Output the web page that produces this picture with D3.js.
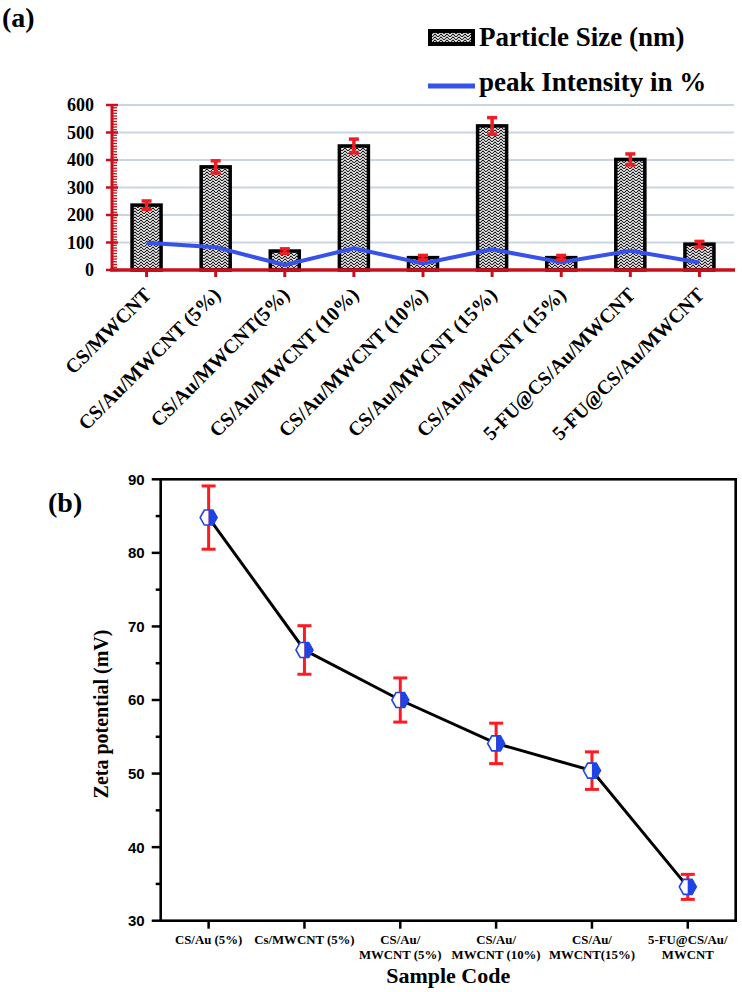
<!DOCTYPE html>
<html><head><meta charset="utf-8">
<script src="https://cdn.jsdelivr.net/npm/d3@7"></script>
<style>body{margin:0;background:#fff}</style>
</head><body><svg id="c" width="742" height="992"></svg>
<script>
// ---------- Panel (a) data ----------
const samplesA = ["CS/MWCNT","CS/Au/MWCNT (5%)","CS/Au/MWCNT(5%)","CS/Au/MWCNT (10%)","CS/Au/MWCNT (10%)","CS/Au/MWCNT (15%)","CS/Au/MWCNT (15%)","5-FU@CS/Au/MWCNT","5-FU@CS/Au/MWCNT"];
const particleSize = [236, 375, 69, 451, 45, 524, 45, 402, 94];
const particleErr  = [15, 22, 8, 25, 8, 30, 8, 20, 10];
const peakIntensity = [99, 83, 18, 79, 24, 75, 28, 70, 27];
const yTicksA = [0, 100, 200, 300, 400, 500, 600];
const legendA = ["Particle Size (nm)", "peak Intensity in %"];

// ---------- Panel (b) data ----------
const samplesB = [["CS/Au (5%)"], ["Cs/MWCNT (5%)"], ["CS/Au/", "MWCNT (5%)"], ["CS/Au/", "MWCNT (10%)"], ["CS/Au/", "MWCNT(15%)"], ["5-FU@CS/Au/", "MWCNT"]];
const zeta    = [84.8, 66.8, 60.0, 54.1, 50.4, 34.6];
const zetaErr = [4.3, 3.3, 3.0, 2.75, 2.55, 1.7];
const yTicksB = [30, 40, 50, 60, 70, 80, 90];

const svg = d3.select("#c");
const serif = "'Liberation Serif','Times New Roman',serif";
const sans = "'Liberation Sans',Arial,sans-serif";
const RED_AX = "#c8101c", RED_ERR = "#f01c24", BLUE = "#3652ea";

// pattern
const defs = svg.append("defs");
const pat = defs.append("pattern").attr("id","zz").attr("patternUnits","userSpaceOnUse")
  .attr("width",6).attr("height",6);
pat.append("rect").attr("width",6).attr("height",6).attr("fill","#fff");
pat.append("path").attr("d","M0,4 L3,1 L6,4 M0,7 L3,4 L6,7 M0,1 L3,-2 L6,1")
  .attr("stroke","#111").attr("stroke-width",1.05).attr("fill","none");

// ================= Panel (a) =================
const idxA = d3.range(samplesA.length);
const xA = d3.scaleBand().domain(idxA).range([112, 734]).paddingInner(0.58).paddingOuter(0.29);
const yA = d3.scaleLinear().domain([0, 600]).range([270, 105]);

svg.append("text").attr("x",2).attr("y",27).attr("font-family",serif).attr("font-weight","bold")
  .attr("font-size",28).text("(a)");

// legend
svg.append("rect").attr("x",430).attr("y",31).attr("width",43).attr("height",13)
  .attr("fill","url(#zz)").attr("stroke","#000").attr("stroke-width",4);
svg.append("line").attr("x1",428).attr("x2",475).attr("y1",86).attr("y2",86)
  .attr("stroke",BLUE).attr("stroke-width",5);
svg.selectAll("text.lg").data(legendA).join("text").attr("class","lg")
  .attr("x",479).attr("y",(d,i)=> i? 91 : 46)
  .attr("font-family",serif).attr("font-weight","bold").attr("font-size",27).text(d=>d);

// gridlines
svg.append("g").selectAll("line").data(yTicksA.filter(d=>d>0)).join("line")
  .attr("x1",112).attr("x2",734).attr("y1",d=>yA(d)).attr("y2",d=>yA(d))
  .attr("stroke","#c9d5e1").attr("stroke-width",2);

// bars
svg.append("g").selectAll("rect").data(idxA).join("rect")
  .attr("x",i=>xA(i)).attr("width",xA.bandwidth())
  .attr("y",i=>yA(particleSize[i])).attr("height",i=>yA(0)-yA(particleSize[i]))
  .attr("fill","url(#zz)").attr("stroke","#000").attr("stroke-width",3.5);

// peak intensity line
svg.append("path").datum(idxA)
  .attr("d", d3.line().x(i=>xA(i)+xA.bandwidth()/2).y(i=>yA(peakIntensity[i])))
  .attr("fill","none").attr("stroke",BLUE).attr("stroke-width",4);

// error bars
const eg = svg.append("g").attr("stroke",RED_ERR).attr("stroke-width",3.5);
idxA.forEach(i=>{
  const cx = xA(i)+xA.bandwidth()/2;
  const y1 = yA(particleSize[i]+particleErr[i]), y2 = yA(particleSize[i]-particleErr[i]);
  eg.append("line").attr("x1",cx).attr("x2",cx).attr("y1",y1).attr("y2",y2);
  eg.append("line").attr("x1",cx-5).attr("x2",cx+5).attr("y1",y1).attr("y2",y1);
  eg.append("line").attr("x1",cx-5).attr("x2",cx+5).attr("y1",y2).attr("y2",y2);
});

// y axis (red, ruler-like)
const ay = svg.append("g").attr("stroke",RED_AX);
ay.selectAll("line.mn").data(d3.range(0,601,10)).join("line").attr("class","mn")
  .attr("x1",112).attr("x2",117).attr("y1",d=>yA(d)).attr("y2",d=>yA(d)).attr("stroke-width",1.3);
ay.selectAll("line.mj").data(yTicksA).join("line").attr("class","mj")
  .attr("x1",106).attr("x2",118).attr("y1",d=>yA(d)).attr("y2",d=>yA(d)).attr("stroke-width",2.5);
ay.append("line").attr("x1",112).attr("x2",112).attr("y1",yA(600)-1).attr("y2",yA(0)).attr("stroke-width",3);
svg.append("g").selectAll("text").data(yTicksA).join("text")
  .attr("x",94).attr("y",d=>yA(d)).attr("dy","0.35em").attr("text-anchor","end")
  .attr("font-family",serif).attr("font-weight","bold").attr("font-size",18).text(d=>d);

// x axis
const ax = svg.append("g").attr("stroke",RED_AX);
ax.append("line").attr("x1",110).attr("x2",735).attr("y1",yA(0)).attr("y2",yA(0)).attr("stroke-width",3.5);
ax.selectAll("line.t").data(idxA).join("line").attr("class","t")
  .attr("x1",i=>xA(i)+xA.bandwidth()/2).attr("x2",i=>xA(i)+xA.bandwidth()/2)
  .attr("y1",yA(0)).attr("y2",yA(0)+7).attr("stroke-width",3);
svg.append("g").selectAll("text").data(idxA).join("text")
  .attr("transform",i=>`translate(${xA(i)+xA.bandwidth()/2+6},296) rotate(-45)`)
  .attr("text-anchor","end").attr("font-family",serif).attr("font-weight","bold")
  .attr("font-size",20).text(i=>samplesA[i]);

// ================= Panel (b) =================
const L = 160.7, R = 735.7, T = 479.3, B = 920.7;
const idxB = d3.range(samplesB.length);
const xB = d3.scalePoint().domain(idxB).range([L, R]).padding(0.5);
const yB = d3.scaleLinear().domain([30, 90]).range([B, T]);

svg.append("text").attr("x",48).attr("y",512).attr("font-family",serif).attr("font-weight","bold")
  .attr("font-size",28).text("(b)");

// frame
svg.append("rect").attr("x",L).attr("y",T).attr("width",R-L).attr("height",B-T)
  .attr("fill","none").attr("stroke","#000").attr("stroke-width",2.6);

// y ticks
const gy = svg.append("g").attr("stroke","#000").attr("stroke-width",2.5);
gy.selectAll("line.mj").data(yTicksB).join("line").attr("class","mj")
  .attr("x1",L-9).attr("x2",L).attr("y1",d=>yB(d)).attr("y2",d=>yB(d));
gy.selectAll("line.mn").data(d3.range(35,90,10)).join("line").attr("class","mn")
  .attr("x1",L-5).attr("x2",L).attr("y1",d=>yB(d)).attr("y2",d=>yB(d));
svg.append("g").selectAll("text").data(yTicksB).join("text")
  .attr("x",L-16).attr("y",d=>yB(d)).attr("dy","0.36em").attr("text-anchor","end")
  .attr("font-family",sans).attr("font-weight","bold").attr("font-size",15).text(d=>d);

// x ticks
const gx = svg.append("g").attr("stroke","#000").attr("stroke-width",2.5);
gx.selectAll("line").data(idxB).join("line")
  .attr("x1",i=>xB(i)).attr("x2",i=>xB(i)).attr("y1",B).attr("y2",B+8);
const xl = svg.append("g").attr("font-family",serif).attr("font-weight","bold").attr("font-size",12.8)
  .attr("text-anchor","middle");
idxB.forEach(i=>{
  samplesB[i].forEach((ln,j)=>{
    xl.append("text").attr("x",xB(i)).attr("y",944+j*15).text(ln);
  });
});

// axis titles
svg.append("text").attr("x",(L+R)/2).attr("y",983).attr("text-anchor","middle")
  .attr("font-family",serif).attr("font-weight","bold").attr("font-size",22).text("Sample Code");
svg.append("text").attr("transform","translate(108,714) rotate(-90)").attr("text-anchor","middle")
  .attr("font-family",serif).attr("font-weight","bold").attr("font-size",20).text("Zeta potential (mV)");

// connecting line
svg.append("path").datum(idxB)
  .attr("d", d3.line().x(i=>xB(i)).y(i=>yB(zeta[i])))
  .attr("fill","none").attr("stroke","#000").attr("stroke-width",3);

// error bars
const eb = svg.append("g").attr("stroke","#ff1a22").attr("stroke-width",3);
idxB.forEach(i=>{
  const cx = xB(i), y1 = yB(zeta[i]+zetaErr[i]), y2 = yB(zeta[i]-zetaErr[i]);
  eb.append("line").attr("x1",cx).attr("x2",cx).attr("y1",y1).attr("y2",y2);
  eb.append("line").attr("x1",cx-7).attr("x2",cx+7).attr("y1",y1).attr("y2",y1);
  eb.append("line").attr("x1",cx-7).attr("x2",cx+7).attr("y1",y2).attr("y2",y2);
});

// hexagon markers, right half filled
const hw = 8.5, hh = 7.5;
const mk = svg.append("g");
idxB.forEach(i=>{
  const g = mk.append("g").attr("transform",`translate(${xB(i)},${yB(zeta[i])})`);
  g.append("path").attr("d",`M0,${-hh} L${-hw/2},${-hh} L${-hw},0 L${-hw/2},${hh} L0,${hh} Z`).attr("fill","#fff");
  g.append("path").attr("d",`M0,${-hh} L${hw/2},${-hh} L${hw},0 L${hw/2},${hh} L0,${hh} Z`).attr("fill","#1f44e6");
  g.append("path").attr("d",`M${-hw/2},${-hh} L${hw/2},${-hh} L${hw},0 L${hw/2},${hh} L${-hw/2},${hh} L${-hw},0 Z`)
    .attr("fill","none").attr("stroke","#1f44e6").attr("stroke-width",1.6);
});
</script>
</body></html>
